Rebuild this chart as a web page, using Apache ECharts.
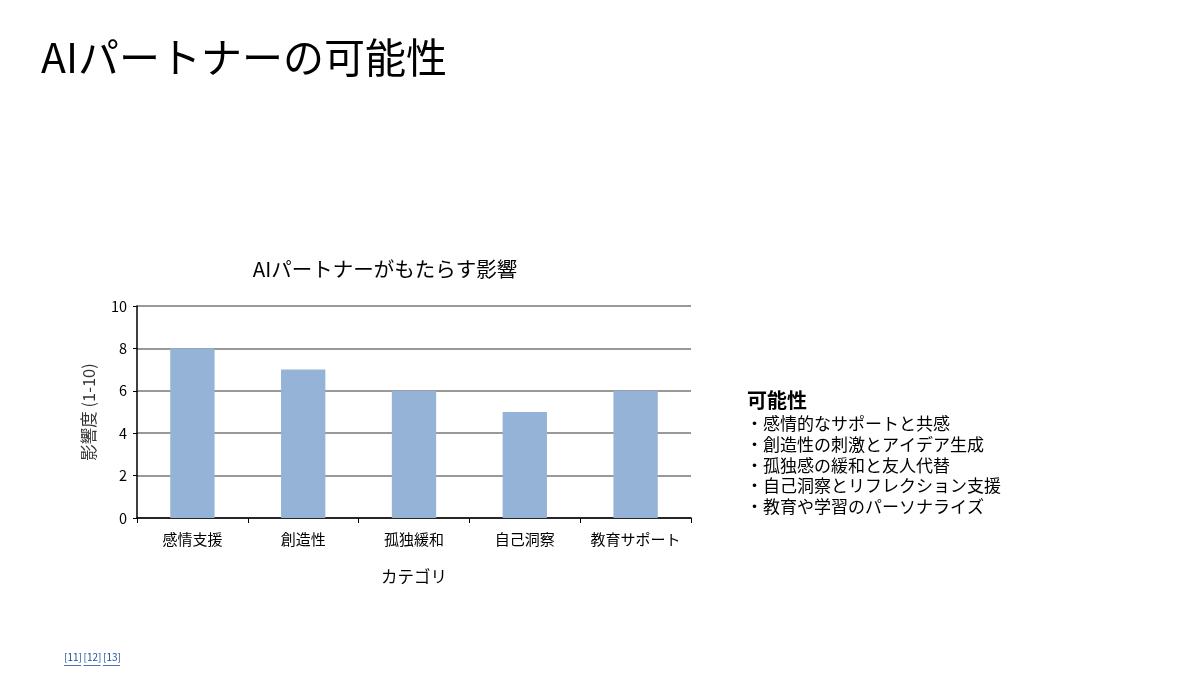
<!DOCTYPE html>
<html>
<head>
<meta charset="utf-8">
<script src="https://cdn.jsdelivr.net/npm/echarts@6/dist/echarts.min.js"></script>
<style>
  html, body { margin: 0; padding: 0; background: #fff; }
  #main { width: 1200px; height: 684px; }
</style>
</head>
<body>
<div id="main"></div>
<script>
const categories = ['感情支援', '創造性', '孤独緩和', '自己洞察', '教育サポート'];
const impact = [8, 7, 6, 5, 6];
const notes = [
  '・感情的なサポートと共感',
  '・創造性の刺激とアイデア生成',
  '・孤独感の緩和と友人代替',
  '・自己洞察とリフレクション支援',
  '・教育や学習のパーソナライズ'
];
const refs = ['[11]', '[12]', '[13]'];
const FONT = '"Noto Sans CJK JP", "Noto Sans", sans-serif';

const chart = echarts.init(document.getElementById('main'), null, { renderer: 'canvas' });

const noteTexts = notes.map((t, i) => ({
  type: 'text',
  left: 746,
  top: 415 + i * 20.8,
  style: { text: t, font: '17px ' + FONT, fill: '#000' }
}));

// footnote links, each underlined
const refMarks = [];
refs.forEach((r, i) => {
  const x = 64 + i * 19.5;
  refMarks.push({
    type: 'text', left: x, top: 652,
    style: { text: r, font: '10px ' + FONT, fill: '#1f4e9e' }
  });
  refMarks.push({
    type: 'rect', left: x, top: 665,
    shape: { width: 17, height: 0.8 },
    style: { fill: '#1f4e9e' }
  });
});

chart.setOption({
  backgroundColor: '#fff',
  textStyle: { fontFamily: FONT },
  title: [
    {
      text: 'AIパートナーの可能性',
      left: 36,
      top: 32,
      textStyle: { fontSize: 41, fontWeight: 'normal', color: '#000', fontFamily: FONT }
    },
    {
      text: 'AIパートナーがもたらす影響',
      left: 380,
      textAlign: 'center',
      top: 254,
      textStyle: { fontSize: 20.5, fontWeight: 'normal', color: '#000', fontFamily: FONT }
    }
  ],
  graphic: [
    {
      type: 'text',
      left: 747,
      top: 390,
      style: { text: '可能性', font: 'bold 20px ' + FONT, fill: '#000' }
    },
    ...noteTexts,
    ...refMarks
  ],
  grid: { left: 137, right: 509, top: 306, bottom: 166, containLabel: false },
  xAxis: {
    type: 'category',
    data: categories,
    name: 'カテゴリ',
    nameLocation: 'middle',
    nameGap: 50,
    nameTextStyle: { fontSize: 16.5, color: '#000' },
    axisLine: { lineStyle: { color: '#000', width: 1.5 } },
    axisTick: { show: true, interval: 0, alignWithLabel: false, length: 5, lineStyle: { color: '#000' } },
    axisLabel: { interval: 0, fontSize: 15, color: '#000', margin: 14 }
  },
  yAxis: {
    type: 'value',
    min: 0,
    max: 10,
    interval: 2,
    name: '影響度 (1-10)',
    nameLocation: 'middle',
    nameGap: 40,
    nameRotate: 90,
    nameTextStyle: { fontSize: 16.5, color: '#333' },
    axisLine: { show: true, lineStyle: { color: '#000', width: 1.5 } },
    axisTick: { show: true, length: 4, lineStyle: { color: '#000' } },
    axisLabel: { fontSize: 14.5, color: '#000', margin: 10 },
    splitLine: { lineStyle: { color: '#777', width: 1.5 } }
  },
  series: [
    {
      type: 'bar',
      data: impact,
      barWidth: '40%',
      itemStyle: { color: '#95b3d7' }
    }
  ]
});
</script>
</body>
</html>
